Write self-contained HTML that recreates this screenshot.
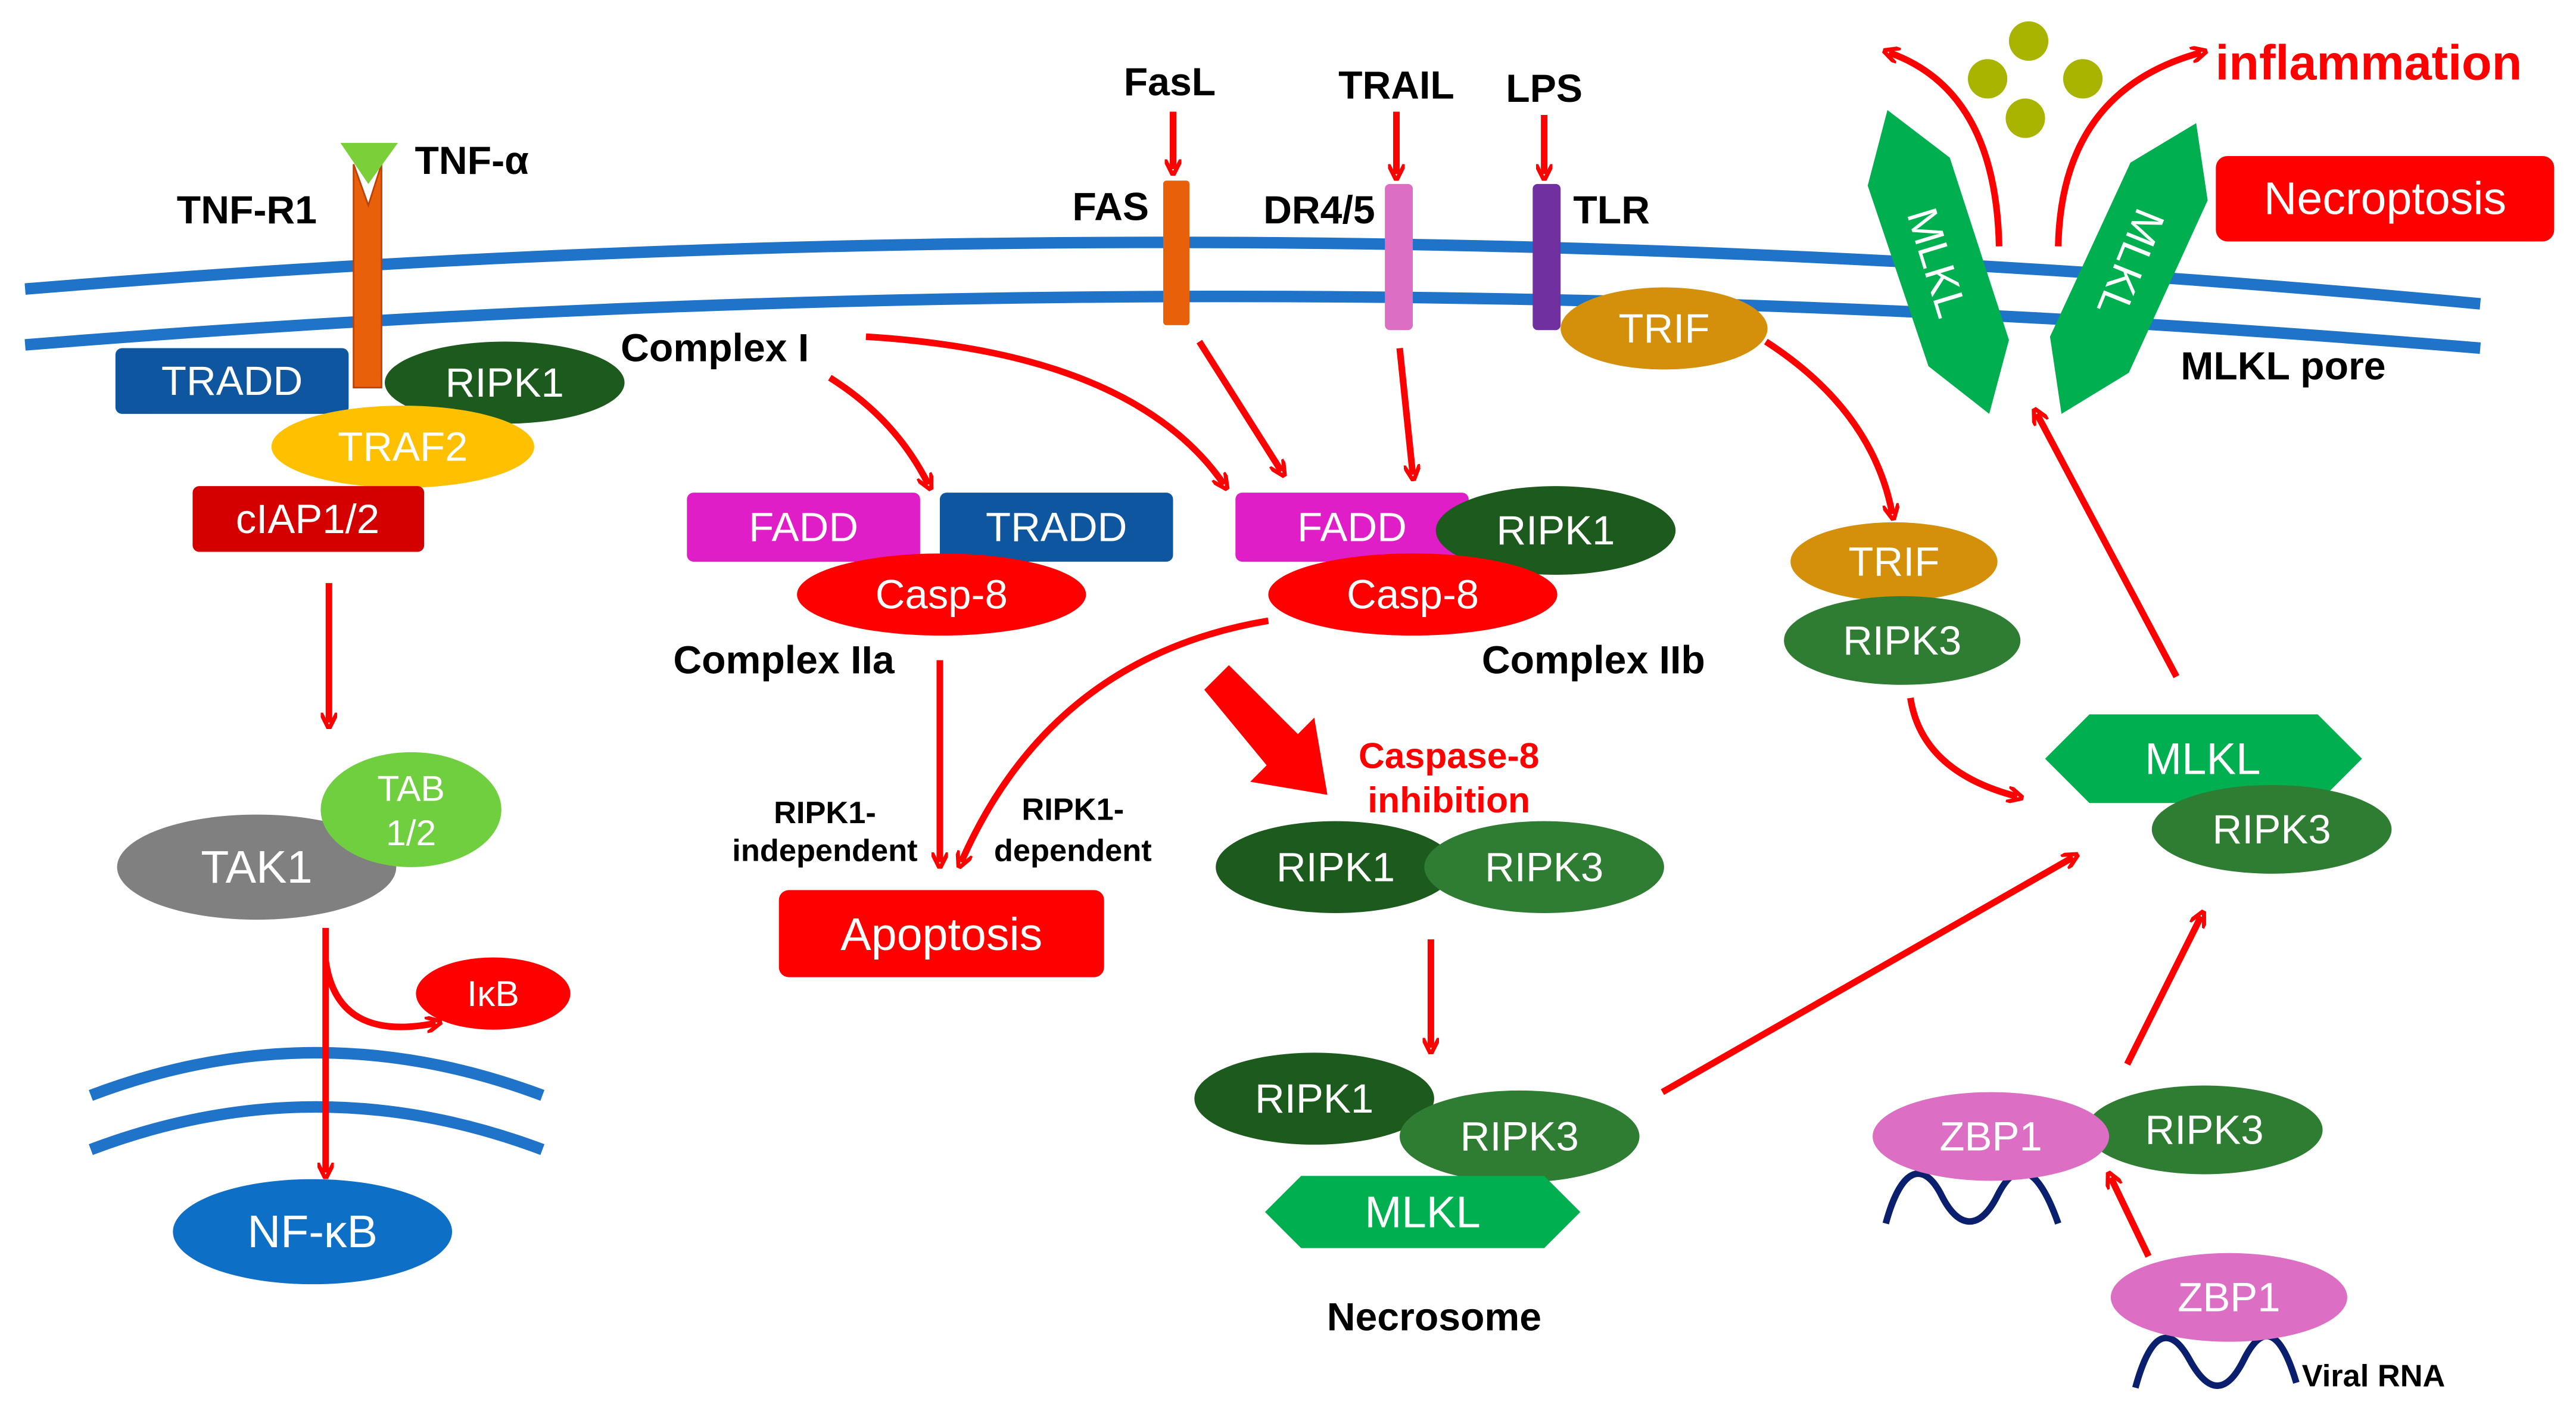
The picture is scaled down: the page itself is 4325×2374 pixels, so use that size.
<!DOCTYPE html>
<html><head><meta charset="utf-8"><style>
html,body{margin:0;padding:0;background:#fff;}
svg{display:block;}
text{font-family:"Liberation Sans",sans-serif;}
.w{fill:#fff;font-size:25px;text-anchor:middle;dominant-baseline:central;}
.b{fill:#000;font-size:24px;font-weight:bold;text-anchor:middle;dominant-baseline:central;}
.s{fill:#000;font-size:19px;font-weight:bold;text-anchor:middle;dominant-baseline:central;}
.r{fill:#f00;stroke:#f00;stroke-width:4;fill:none;}
</style></head><body>
<svg width="4325" height="2374" viewBox="0 0 1568 861" xmlns="http://www.w3.org/2000/svg">
<defs>
<marker id="a" markerWidth="10" markerHeight="10" refX="6" refY="5" orient="auto" markerUnits="userSpaceOnUse" viewBox="0 0 10 10"><path d="M0,0 L10,5 L0,10" fill="none" stroke="#f00" stroke-width="2.5"/></marker>
</defs>
<!-- membrane -->
<path d="M15,176 Q760,115 1510,185" stroke="#1f73c8" stroke-width="7" fill="none"/>
<path d="M15,210 Q760,150 1510,212" stroke="#1f73c8" stroke-width="7" fill="none"/>
<!-- TNF receptor -->
<polygon points="215,236 215,100 224,125 232,100 232,236" fill="#e8600a" stroke="#c04000"/>
<polygon points="207,87 242,87 224,112" fill="#7bd03a"/>
<text class="b" x="150" y="128">TNF-R1</text>
<text class="b" x="287" y="98">TNF-α</text>
<rect x="70" y="212" width="142" height="40" rx="4" fill="#0e56a0"/><text class="w" x="141" y="232">TRADD</text>
<ellipse cx="307" cy="233" rx="73" ry="25" fill="#1d5a1d"/><text class="w" x="307" y="233">RIPK1</text>
<ellipse cx="245" cy="272" rx="80" ry="25" fill="#ffc000"/><text class="w" x="245" y="272">TRAF2</text>
<rect x="117" y="296" width="141" height="40" rx="4" fill="#d40000"/><text class="w" x="187" y="316">cIAP1/2</text>
<line x1="200" y1="355" x2="200" y2="440" class="r" marker-end="url(#a)"/>
<ellipse cx="156" cy="528" rx="85" ry="32" fill="#808080"/><text class="w" x="156" y="528" style="font-size:28px">TAK1</text>
<ellipse cx="250" cy="493" rx="55" ry="35" fill="#6fcf3f"/><text class="w" x="250" y="480" style="font-size:22px">TAB</text><text class="w" x="250" y="507" style="font-size:22px">1/2</text>
<path d="M55,667 Q192,615 330,667" stroke="#1f73c8" stroke-width="7" fill="none"/>
<path d="M55,700 Q192,648 330,700" stroke="#1f73c8" stroke-width="7" fill="none"/>
<line x1="198" y1="565" x2="198" y2="714" class="r" marker-end="url(#a)"/>
<path d="M198,585 Q205,635 265,623" class="r" marker-end="url(#a)"/>
<ellipse cx="300" cy="605" rx="47" ry="22" fill="#f00"/><text class="w" x="300" y="605" style="font-size:22px">IκB</text>
<ellipse cx="190" cy="750" rx="85" ry="32" fill="#0e6fc7"/><text class="w" x="190" y="750" style="font-size:28px">NF-κB</text>
<!-- Complex I -->
<text class="b" x="435" y="212">Complex I</text>
<path d="M505,230 Q545,255 565,295" class="r" marker-end="url(#a)"/>
<path d="M527,205 Q690,215 745,295" class="r" marker-end="url(#a)"/>
<rect x="418" y="300" width="142" height="42" rx="4" fill="#e01ec8"/><text class="w" x="489" y="321">FADD</text>
<rect x="572" y="300" width="142" height="42" rx="4" fill="#0e56a0"/><text class="w" x="643" y="321">TRADD</text>
<ellipse cx="573" cy="362" rx="88" ry="25" fill="#f00"/><text class="w" x="573" y="362">Casp-8</text>
<text class="b" x="477" y="402">Complex IIa</text>
<line x1="572" y1="402" x2="572" y2="525" class="r" marker-end="url(#a)"/>
<path d="M772,378 Q640,400 585,525" class="r" marker-end="url(#a)"/>
<text class="s" x="502" y="495">RIPK1-</text><text class="s" x="502" y="518">independent</text>
<text class="s" x="653" y="493">RIPK1-</text><text class="s" x="653" y="518">dependent</text>
<rect x="474" y="542" width="198" height="53" rx="6" fill="#f00"/><text class="w" x="573" y="569" style="font-size:28px">Apoptosis</text>
<!-- Complex IIb -->
<rect x="752" y="300" width="142" height="42" rx="4" fill="#e01ec8"/><text class="w" x="823" y="321">FADD</text>
<ellipse cx="947" cy="323" rx="73" ry="27" fill="#1d5a1d"/><text class="w" x="947" y="323">RIPK1</text>
<ellipse cx="860" cy="362" rx="88" ry="25" fill="#f00"/><text class="w" x="860" y="362">Casp-8</text>
<text class="b" x="970" y="402">Complex IIb</text>
<!-- receptors -->
<rect x="708" y="110" width="16" height="88" rx="2" fill="#e8600a"/>
<text class="b" x="712" y="50">FasL</text><line x1="714" y1="68" x2="714" y2="103" class="r" marker-end="url(#a)"/>
<text class="b" x="676" y="126">FAS</text>
<rect x="843" y="112" width="17" height="89" rx="3" fill="#dc6fc4"/>
<text class="b" x="850" y="52">TRAIL</text><line x1="850" y1="68" x2="850" y2="106" class="r" marker-end="url(#a)"/>
<text class="b" x="803" y="128">DR4/5</text>
<rect x="933" y="112" width="17" height="89" rx="3" fill="#7030a0"/>
<text class="b" x="940" y="54">LPS</text><line x1="940" y1="70" x2="940" y2="106" class="r" marker-end="url(#a)"/>
<text class="b" x="981" y="128">TLR</text>
<line x1="730" y1="208" x2="780" y2="287" class="r" marker-end="url(#a)"/>
<line x1="852" y1="212" x2="860" y2="289" class="r" marker-end="url(#a)"/>
<ellipse cx="1013" cy="200" rx="63" ry="25" fill="#d4900a"/><text class="w" x="1013" y="200">TRIF</text>
<path d="M1075,208 Q1140,250 1152,313" class="r" marker-end="url(#a)"/>
<ellipse cx="1153" cy="342" rx="63" ry="24" fill="#d4900a"/><text class="w" x="1153" y="342">TRIF</text>
<ellipse cx="1158" cy="390" rx="72" ry="27" fill="#2e7d32"/><text class="w" x="1158" y="390">RIPK3</text>
<!-- big arrow -->
<polygon points="733,420 748,405 790,447 800,437 808,484 761,476 771,466" fill="#f00"/>
<text x="882" y="460" style="fill:#f00;font-size:22px;font-weight:bold;text-anchor:middle;dominant-baseline:central">Caspase-8</text>
<text x="882" y="487" style="fill:#f00;font-size:22px;font-weight:bold;text-anchor:middle;dominant-baseline:central">inhibition</text>
<ellipse cx="813" cy="528" rx="73" ry="28" fill="#1d5a1d"/><text class="w" x="813" y="528">RIPK1</text>
<ellipse cx="940" cy="528" rx="73" ry="28" fill="#2e7d32"/><text class="w" x="940" y="528">RIPK3</text>
<line x1="871" y1="572" x2="871" y2="638" class="r" marker-end="url(#a)"/>
<ellipse cx="800" cy="669" rx="73" ry="28" fill="#1d5a1d"/><text class="w" x="800" y="669">RIPK1</text>
<ellipse cx="925" cy="692" rx="73" ry="28" fill="#2e7d32"/><text class="w" x="925" y="692">RIPK3</text>
<polygon points="770,738 792,716 940,716 962,738 940,760 792,760" fill="#00b050"/><text class="w" x="866" y="738" style="font-size:27px">MLKL</text>
<text class="b" x="873" y="802">Necrosome</text>
<line x1="1012" y1="665" x2="1262" y2="522" class="r" marker-end="url(#a)"/>
<path d="M1163,425 Q1170,470 1228,485" class="r" marker-end="url(#a)"/>
<polygon points="1245,462 1272,435 1411,435 1438,462 1411,489 1272,489" fill="#00b050"/><text class="w" x="1341" y="462" style="font-size:27px">MLKL</text>
<ellipse cx="1383" cy="505" rx="73" ry="27" fill="#2e7d32"/><text class="w" x="1383" y="505">RIPK3</text>
<line x1="1325" y1="412" x2="1240" y2="252" class="r" marker-end="url(#a)"/>
<!-- MLKL pore -->
<polygon points="1149,67 1187,96 1223,207 1211,252 1174,223 1137,113" fill="#00b050"/>
<text class="w" x="0" y="0" transform="translate(1179,160) rotate(73)" style="font-size:26px">MLKL</text>
<polygon points="1337,75 1344,122 1296,227 1255,252 1248,205 1297,99" fill="#00b050"/>
<text class="w" x="0" y="0" transform="translate(1297,160) rotate(112)" style="font-size:26px">MLKL</text>
<text class="b" x="1390" y="223">MLKL pore</text>
<circle cx="1235" cy="25" r="12" fill="#a8b400"/><circle cx="1210" cy="48" r="12" fill="#a8b400"/><circle cx="1268" cy="48" r="12" fill="#a8b400"/><circle cx="1233" cy="72" r="12" fill="#a8b400"/>
<path d="M1217,150 Q1215,55 1150,32" class="r" marker-end="url(#a)"/>
<path d="M1253,150 Q1255,55 1340,32" class="r" marker-end="url(#a)"/>
<text x="1442" y="38" style="fill:#f00;font-size:30px;font-weight:bold;text-anchor:middle;dominant-baseline:central">inflammation</text>
<rect x="1349" y="95" width="206" height="52" rx="7" fill="#f00"/><text class="w" x="1452" y="121" style="font-size:28px">Necroptosis</text>
<!-- ZBP1 -->
<line x1="1295" y1="648" x2="1340" y2="558" class="r" marker-end="url(#a)"/>
<path d="M1148,745 C1158,708 1172,708 1182,728 S1205,750 1216,728 S1240,708 1253,745" stroke="#0a1f6e" stroke-width="4" fill="none"/>
<ellipse cx="1342" cy="688" rx="72" ry="27" fill="#2e7d32"/><text class="w" x="1342" y="688">RIPK3</text>
<ellipse cx="1212" cy="692" rx="72" ry="27" fill="#dc6fc4"/><text class="w" x="1212" y="692">ZBP1</text>
<line x1="1308" y1="765" x2="1285" y2="717" class="r" marker-end="url(#a)"/>
<path d="M1300,845 C1310,808 1322,808 1333,828 S1355,850 1366,828 S1388,808 1398,842" stroke="#0a1f6e" stroke-width="4" fill="none"/>
<ellipse cx="1357" cy="790" rx="72" ry="27" fill="#dc6fc4"/><text class="w" x="1357" y="790">ZBP1</text>
<text class="s" x="1445" y="838">Viral RNA</text>
</svg>
</body></html>
